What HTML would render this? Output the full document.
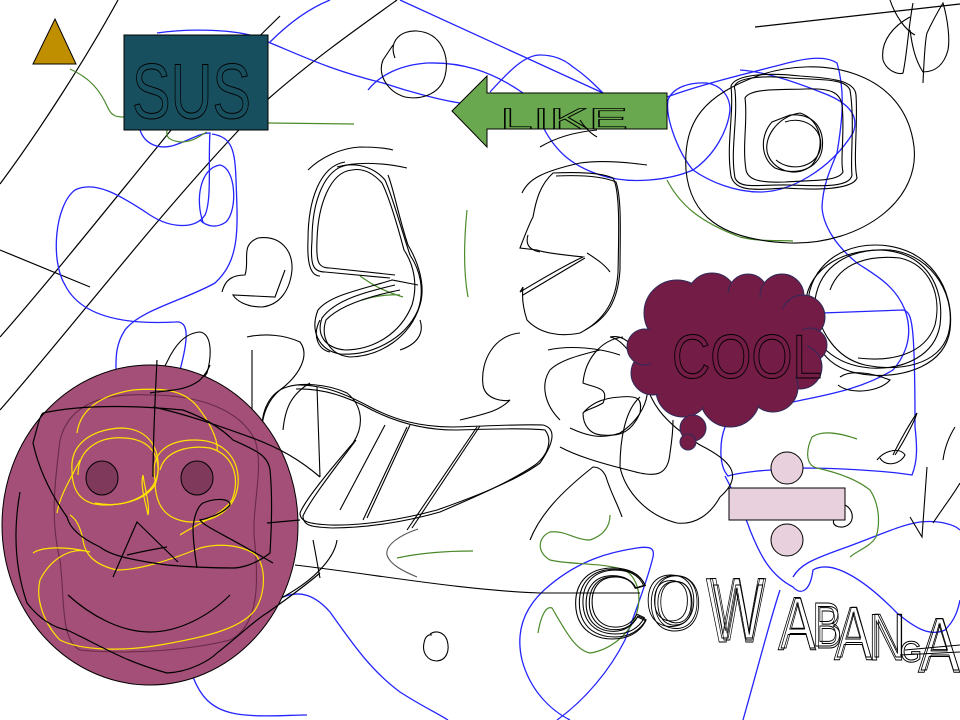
<!DOCTYPE html>
<html><head><meta charset="utf-8"><style>
html,body{margin:0;padding:0;background:#fff;}
svg{display:block;}
text{font-family:"Liberation Sans",sans-serif;}
</style></head><body>
<svg width="960" height="720" viewBox="0 0 960 720" xmlns="http://www.w3.org/2000/svg">
<rect width="960" height="720" fill="#fff"/>

<!-- long black lines -->
<g fill="none" stroke="#000" stroke-width="1.2">
<path d="M0,184 C40,130 85,60 118,0"/>
<path d="M0,337 C50,280 110,205 167,135 C200,95 240,55 280,16"/>
<path d="M0,410 C70,330 150,225 237,132 L267,100 C310,62 355,30 397,0"/>
<path d="M0,250 L90,287"/>
<path d="M755,27 L960,4"/>
</g>

<!-- blue strokes -->
<g fill="none" stroke="#2424ff" stroke-width="1.3">
<path d="M400,0 L603,93"/>
<path d="M270,42 C290,22 310,8 330,0"/>
<path d="M268,42 C300,55 330,70 383,83 C410,92 440,100 460,103"/>
<path d="M157,33 C190,28 230,30 250,35"/>
<path d="M140,130 C145,145 160,150 175,145 C190,140 200,133 210,133 C208,160 212,200 205,215 C195,230 170,228 150,215 C120,195 95,180 75,190 C55,205 50,260 65,285 C80,315 120,325 175,322 C190,320 188,340 180,370"/>
<path d="M212,134 C232,137 235,150 236,180 C238,230 240,260 215,283 C185,300 140,310 125,330 C115,345 116,360 116,370"/>
<path d="M203,222 C195,200 200,168 220,165 C236,168 238,210 226,222 C216,229 206,226 200,220"/>
<path d="M368,90 C380,75 400,65 427,63 C460,62 490,70 523,93"/>
<path d="M490,92 C510,70 525,55 540,55 C555,55 565,60 573,67 C585,75 595,85 603,93"/>
<path d="M543,127 C555,150 570,165 600,175 C630,185 670,180 693,170 C715,155 728,130 730,110 C730,95 720,85 707,83 C690,82 673,87 668,100 C665,120 680,155 693,170 C710,182 735,192 760,192 C790,192 830,170 853,133 C858,120 855,105 823,93 C790,80 765,72 740,70"/>
<path d="M667,97 C700,85 740,75 780,65 C805,58 825,55 837,63 C845,90 843,117 837,153 C830,170 823,185 822,207 C823,225 835,245 857,263 C875,275 895,285 905,310 C912,330 910,350 893,370 C860,390 825,395 793,402"/>
<path d="M822,313 L903,310 C912,312 915,320 915,427 C917,445 918,460 912,475 C880,470 830,468 800,468 C770,470 745,471 728,476 C718,465 720,440 725,427"/>
<path d="M725,476 C735,495 745,515 750,530 C760,555 770,575 793,587 C800,595 810,593 813,570 C830,560 860,575 897,613 C915,628 930,637 945,630 C955,620 958,610 960,600"/>
<path d="M793,577 C800,565 810,560 847,547 C880,535 900,525 920,522 C940,520 955,525 960,530"/>
<path d="M780,590 C770,620 760,660 743,720"/>
<path d="M557,720 C585,700 610,670 625,640 C640,600 650,570 653,557 C655,548 650,546 637,548 C610,552 580,560 550,585 C525,605 515,630 522,660 C530,690 550,710 570,720"/>
<path d="M283,597 C300,590 315,595 330,612 C350,640 370,670 400,692 C420,705 435,712 448,720"/>
<path d="M193,677 C200,695 210,708 232,713 C255,718 285,715 307,715"/>
</g>

<!-- green strokes -->
<g fill="none" stroke="#4b8a2b" stroke-width="1.2">
<path d="M70,69 C90,78 100,90 108,108 C112,117 118,117 124,117"/>
<path d="M268,123 L354,124"/>
<path d="M167,130 C166,137 168,140 180,142 C195,142 200,135 207,132"/>
<path d="M360,276 C370,283 380,290 403,297 M362,300 C375,296 390,294 400,295"/>
<path d="M467,210 C464,240 463,270 468,297"/>
<path d="M667,180 C680,205 700,222 740,237 C760,242 780,240 793,241"/>
<path d="M857,439 C840,433 822,430 812,437 C806,450 805,465 817,468 C835,472 855,478 870,490 C880,505 880,525 876,537 C870,547 858,550 850,557"/>
<path d="M610,515 C610,525 605,535 590,540 C575,540 565,530 550,532 C538,537 536,552 550,560 C570,565 600,562 625,570 C640,580 642,600 635,618 C628,635 610,650 590,653 C575,650 565,630 552,608 C545,605 540,620 538,633"/>
<path d="M397,558 C420,553 445,551 473,551"/>
</g>
<g fill="none" stroke="#555" stroke-width="1.1">
<path d="M418,529 C400,535 385,545 387,555 C390,565 405,572 417,577"/>
</g>

<!-- teal rect -->
<rect x="124" y="35" width="144" height="95" fill="#184f5e" stroke="#000" stroke-width="1"/>
<text x="132" y="118" font-size="78" textLength="119" lengthAdjust="spacingAndGlyphs" fill="none" stroke="#000" stroke-width="1">SUS</text>

<!-- triangle -->
<polygon points="55,19 33,64 76,64" fill="#bf8f00" stroke="#000" stroke-width="1"/>

<!-- arrow -->
<polygon points="452,111 487,76 487,93 667,93 667,129 487,129 487,147" fill="#6aa84f" stroke="#000" stroke-width="1"/>
<text x="500" y="129" font-size="30" textLength="128" lengthAdjust="spacingAndGlyphs" fill="none" stroke="#000" stroke-width="0.8">LIKE</text>

<!-- black scribbles -->
<g fill="none" stroke="#000" stroke-width="1.1">
<path d="M395,58 C388,40 402,30 417,31 C442,33 450,57 445,76 C440,95 420,100 405,97 C388,92 377,75 383,60 L393,45"/>
<path d="M540,147 C555,138 575,132 597,130 M580,120 C585,128 590,133 597,137"/>
<path d="M760,75 C820,55 900,70 913,140 C925,200 860,245 790,243 C720,240 690,215 686,170 C683,120 705,95 760,75 Z"/>
<path d="M735,90 C730,78 760,75 790,78 C820,80 845,78 850,90 C855,120 850,160 852,175 C850,188 820,186 790,185 C760,184 740,190 735,178 C730,150 738,120 735,90 Z"/>
<path d="M731,86 C735,75 765,72 800,76 C830,78 855,80 856,95 C858,125 853,160 857,178 C852,190 815,190 785,188 C755,190 735,192 731,176 C726,145 734,115 731,86 Z"/>
<path d="M745,98 C750,88 780,90 805,89 C830,88 840,92 842,105 C845,130 840,160 843,172 C838,182 810,180 785,182 C760,183 748,180 746,170 C742,145 748,120 745,98 Z"/>
<path d="M790,115 C815,113 825,130 822,150 C818,170 795,176 775,168 C760,158 760,135 772,122 Z"/>
<path d="M800,113 C822,120 826,148 812,165 C798,178 775,172 768,155 C762,138 778,116 800,113 Z"/>
<path d="M785,122 C805,115 825,130 820,150 C815,168 790,172 776,160"/>
<path d="M910,17 C895,25 880,40 883,60 C887,72 900,75 903,73 C907,55 908,30 913,3"/>
<path d="M923,83 C924,60 925,40 927,33 C933,20 940,8 943,3 C948,20 950,40 948,50 C944,65 935,72 923,72 C915,60 912,45 910,30"/>
<path d="M890,0 C895,15 905,30 915,35"/>
<!-- face 1 left head -->
<path d="M390,278 L325,272 C313,272 310,265 312,240 C312,200 325,168 348,165 C360,164 375,168 385,180 C392,195 400,225 410,255 C420,270 425,290 418,310 C405,340 370,356 340,354 C318,350 310,330 318,310 C330,295 360,290 392,280 L418,285"/>
<path d="M395,275 L330,268 C318,268 316,262 317,240 C318,205 330,172 352,170 C362,168 372,172 382,183 C388,195 396,220 404,250 C414,265 418,285 412,305 C400,335 372,350 345,350 C325,348 316,335 322,318 C335,300 365,292 395,285"/>
<path d="M320,276 C310,276 307,262 308,240 C308,200 320,166 345,162 M388,175 C394,190 398,215 408,245 C418,262 426,285 420,305 C410,338 380,356 350,357 C330,355 320,338 326,320 C340,305 370,296 400,290"/>
<path d="M308,170 C320,158 340,148 360,147 C375,147 385,148 393,150 M337,167 C355,162 380,162 407,168"/>
<!-- face 2 right head -->
<path d="M553,173 C575,172 600,172 613,178 C620,190 619,230 618,273 C616,300 605,320 580,333 C560,337 540,334 527,320 C522,305 522,295 523,287 L520,292 C540,280 565,265 583,257 C565,255 545,253 537,250 L520,248 C525,235 530,222 533,217 C536,200 540,185 553,173 Z"/>
<path d="M556,176 C578,175 602,176 616,182 C622,200 620,235 620,270 C618,300 608,318 585,330 M523,295 C545,282 565,270 585,258 M540,252 C530,250 525,245 528,235"/>
<path d="M522,193 C528,180 540,172 580,163 C600,160 625,162 647,165"/>
<path d="M587,253 C598,260 605,265 610,272"/>
<path d="M222,292 C225,280 232,275 245,275 C250,260 240,245 258,238 C280,235 293,250 292,270 C290,290 280,305 262,307 C245,307 236,300 233,295 L275,297 L285,270"/>
<!-- mouth / teeth -->
<path d="M298,385 C315,385 335,388 370,407 C395,420 420,427 453,427 C490,426 520,424 543,425 C555,428 556,440 540,463 C520,478 480,495 437,510 C400,520 360,526 330,525 C310,524 300,522 300,513 C305,500 330,470 353,443 C365,425 362,405 347,393 C325,383 300,383 287,387 C270,392 262,410 262,427"/>
<path d="M296,389 C320,388 345,395 372,410 C398,423 425,430 455,430 C495,429 525,428 545,430 C553,440 548,455 535,465 C510,482 475,497 440,512 C405,522 365,528 332,528 C312,527 303,526 303,516 C310,500 335,468 356,440"/>
<path d="M407,427 L363,520 M410,425 L367,518 M477,427 L407,530 M480,426 L412,528 M385,425 L340,510"/>
<path d="M247,337 C265,333 285,335 300,342 C310,355 300,375 280,390 C268,400 262,415 262,430"/>
<path d="M252,350 L252,477 M317,387 L320,477 M283,430 C285,410 290,395 310,383"/>
<path d="M320,320 C312,335 318,350 330,352 M420,320 C425,335 415,345 400,350"/>
<!-- center scribbles -->
<path d="M520,333 C495,335 480,360 483,385 C485,400 505,402 510,400 C500,410 490,413 460,420"/>
<path d="M623,337 C600,340 585,360 583,383 C595,388 610,387 603,403 C595,408 585,410 583,413 C583,425 590,435 603,435 C615,436 630,436 640,413 C642,400 640,395 620,397 C600,398 590,405 583,413"/>
<path d="M640,397 C625,410 620,440 620,467 C625,490 645,515 677,523 C695,525 710,515 720,497"/>
<path d="M560,447 C575,455 595,462 640,473 C655,476 668,476 670,453 C672,440 673,430 673,420"/>
<path d="M530,540 C540,515 560,493 593,467 C600,467 605,472 607,480 C612,495 618,505 622,517"/>
<path d="M560,420 C545,405 540,385 550,370 C560,360 580,355 600,350 M548,350 C570,345 600,348 620,355"/>
<path d="M610,337 C625,340 635,360 645,380 C650,400 660,420 700,445 C730,460 745,475 720,497"/>
<!-- right ellipses -->
<path d="M810,320 C800,280 830,245 875,245 C930,245 955,290 950,330 C945,365 905,378 870,375 C830,372 815,350 810,320 Z"/>
<path d="M805,310 C805,270 840,250 880,250 C925,252 945,285 940,325 C935,355 905,370 870,368 C835,365 812,345 805,310 Z"/>
<path d="M815,300 C820,265 850,248 890,250 C935,255 958,300 948,335 C938,365 900,372 865,365 C835,358 818,330 815,300 Z"/>
<path d="M830,290 C840,262 870,255 900,258 C930,265 942,295 935,325 C925,355 890,362 858,358"/>
<path d="M840,377 C850,370 870,372 890,380 C880,392 850,395 838,385"/>
<path d="M610,337 C625,334 638,345 647,383 C650,400 640,420 620,433 C600,440 585,435 570,428"/>
<path d="M877,460 C885,450 900,447 905,455 C900,465 885,467 880,458 M895,455 C905,440 915,420 917,413 C912,420 900,440 893,455"/>
<path d="M943,460 C945,445 950,435 955,427 M927,467 L922,537 L910,517 M960,483 C953,495 945,505 933,523"/>
<path d="M845,505 C855,510 855,525 843,527 C833,528 830,520 838,517"/>
<path d="M295,565 C380,575 460,590 540,593 L640,593"/>
<path d="M337,540 C335,555 320,575 290,593 C260,610 240,630 223,643"/>
<path d="M313,540 C316,555 318,568 320,578"/>
<path d="M430,634 C436,630 444,632 447,640 C450,650 447,660 437,661 C427,661 422,652 424,643 C425,637 428,634 432,635"/>
<path d="M153,400 C155,385 160,375 167,362 C175,345 185,333 200,332 C212,334 212,355 207,373 C200,385 185,390 153,400"/>
</g>

<!-- big face -->
<ellipse cx="150" cy="525" rx="148" ry="160" fill="#a34f77" stroke="#000" stroke-width="1"/>
<ellipse cx="102" cy="478" rx="16" ry="17" fill="#7f3a5b" stroke="#000" stroke-width="1"/>
<ellipse cx="197" cy="478" rx="16" ry="17" fill="#7f3a5b" stroke="#000" stroke-width="1"/>
<g fill="none" stroke="#6a2a48" stroke-width="1.1">
<path d="M60,440 C55,480 50,520 60,560 C65,600 60,640 80,650 C130,655 190,650 230,640 C260,625 258,580 255,545 C250,510 265,470 255,440 C240,410 200,395 150,395 C110,393 70,400 60,440"/>
</g>
<g fill="none" stroke="#ffe400" stroke-width="1.2">
<path d="M77,433 C80,410 100,395 133,390 C160,388 185,388 200,410 C215,430 218,445 217,450"/>
<path d="M72,470 C70,445 90,430 120,428 C150,428 160,450 158,472 C155,495 130,505 105,505 C80,505 72,490 72,470 Z"/>
<path d="M78,475 C78,448 100,436 125,438 C155,440 163,462 155,485 C145,500 120,508 95,503"/>
<path d="M155,480 C150,455 165,440 195,440 C225,440 240,460 238,485 C235,510 215,522 190,522 C165,520 155,505 155,480 Z"/>
<path d="M160,470 C165,450 190,445 210,448 C235,455 240,480 232,500 C222,515 195,525 180,535"/>
<path d="M143,475 C145,490 150,505 148,515 C145,500 140,485 143,475"/>
<path d="M57,513 C60,495 70,480 80,460 M33,553 C40,548 60,545 90,552 C70,546 50,560 40,580 C35,600 45,625 60,640 C80,650 120,652 160,645 C200,638 240,630 255,610 C268,590 265,560 253,553 C240,545 220,543 200,548 C170,560 140,570 117,570 C95,565 85,555 83,540 C80,525 75,518 70,515"/>
</g>
<g fill="none" stroke="#000" stroke-width="1.2">
<path d="M20,492 C15,520 12,560 27,603 C40,620 55,628 67,630 C100,645 120,660 167,673 C190,672 210,660 217,653 C240,635 255,620 267,613 C285,600 300,590 320,573"/>
<path d="M33,443 C38,425 40,415 43,413 C80,405 130,405 183,410 C210,420 225,432 233,440 C255,450 268,455 270,470 C272,490 272,520 270,553 C255,565 240,568 233,568 C210,568 190,567 167,565 C130,560 110,555 100,547 C85,540 70,530 67,517 C55,500 40,475 33,443 Z"/>
<path d="M68,595 C90,615 120,632 150,632 C180,632 210,615 230,595"/>
<path d="M113,577 L137,522 L178,562 M127,555 C140,552 155,549 167,547"/>
<path d="M197,568 C195,555 193,540 193,527 C195,510 200,505 203,503 C215,498 230,498 230,505 C225,512 210,518 200,520 C205,527 220,532 273,563"/>
<path d="M157,360 C155,400 153,440 153,477"/>
<path d="M153,407 C190,415 230,430 250,437 C280,448 300,460 320,477"/>
<path d="M150,393 C165,390 185,392 200,380 C205,375 208,370 210,365"/>
<path d="M267,523 L300,520"/>
</g>

<!-- cloud -->
<g fill="#731c45" stroke="#2f2a5a" stroke-width="1">
<circle cx="677" cy="313" r="33"/>
<circle cx="712" cy="298" r="25"/>
<circle cx="748" cy="294" r="20"/>
<circle cx="782" cy="296" r="22"/>
<circle cx="803" cy="317" r="22"/>
<circle cx="810" cy="345" r="17"/>
<circle cx="800" cy="367" r="22"/>
<circle cx="773" cy="387" r="25"/>
<circle cx="730" cy="397" r="30"/>
<circle cx="683" cy="390" r="27"/>
<circle cx="653" cy="373" r="22"/>
<circle cx="645" cy="347" r="18"/>
<circle cx="693" cy="428" r="13"/>
<circle cx="688" cy="442" r="8"/>
</g>
<ellipse cx="727" cy="348" rx="80" ry="55" fill="#731c45"/>
<circle cx="677" cy="313" r="31" fill="#731c45"/>
<circle cx="773" cy="387" r="23" fill="#731c45"/>
<circle cx="730" cy="396" r="28" fill="#731c45"/>
<circle cx="683" cy="389" r="25" fill="#731c45"/>
<text x="672" y="378" font-size="62" textLength="150" lengthAdjust="spacingAndGlyphs" fill="none" stroke="#000" stroke-width="1">COOL</text>

<!-- division sign -->
<g fill="#e8d1dc" stroke="#000" stroke-width="1">
<circle cx="787" cy="468" r="16"/>
<rect x="729" y="488" width="116" height="32"/>
<circle cx="787" cy="540" r="16"/>
</g>

<!-- COWABANGA -->
<g fill="none" stroke="#000" stroke-width="1">
<text x="570" y="638" font-size="100" textLength="80" lengthAdjust="spacingAndGlyphs">C</text>
<text x="574" y="636" font-size="96" textLength="76" lengthAdjust="spacingAndGlyphs">C</text>
<text x="578" y="633" font-size="90" textLength="70" lengthAdjust="spacingAndGlyphs">C</text>
<text x="648" y="630" font-size="78" textLength="54" lengthAdjust="spacingAndGlyphs">O</text>
<text x="652" y="628" font-size="74" textLength="48" lengthAdjust="spacingAndGlyphs">O</text>
<text x="645" y="626" font-size="72" textLength="52" lengthAdjust="spacingAndGlyphs">O</text>
<text x="706" y="642" font-size="92" textLength="60" lengthAdjust="spacingAndGlyphs">W</text>
<text x="710" y="638" font-size="86" textLength="54" lengthAdjust="spacingAndGlyphs">W</text>
<text x="713" y="640" font-size="80" textLength="50" lengthAdjust="spacingAndGlyphs">W</text>
<text x="778" y="650" font-size="76" textLength="38" lengthAdjust="spacingAndGlyphs">A</text>
<text x="781" y="648" font-size="72" textLength="34" lengthAdjust="spacingAndGlyphs">A</text>
<text x="812" y="646" font-size="62" textLength="30" lengthAdjust="spacingAndGlyphs">B</text>
<text x="815" y="648" font-size="60" textLength="27" lengthAdjust="spacingAndGlyphs">B</text>
<text x="834" y="660" font-size="76" textLength="38" lengthAdjust="spacingAndGlyphs">A</text>
<text x="837" y="657" font-size="72" textLength="34" lengthAdjust="spacingAndGlyphs">A</text>
<text x="868" y="660" font-size="66" textLength="38" lengthAdjust="spacingAndGlyphs">N</text>
<text x="871" y="657" font-size="62" textLength="34" lengthAdjust="spacingAndGlyphs">N</text>
<text x="900" y="662" font-size="30" textLength="22" lengthAdjust="spacingAndGlyphs">G</text>
<text x="918" y="672" font-size="78" textLength="42" lengthAdjust="spacingAndGlyphs">A</text>
<text x="921" y="670" font-size="74" textLength="38" lengthAdjust="spacingAndGlyphs">A</text>
<path d="M905,650 L960,645 M900,655 L960,652"/>
</g>
</svg>
</body></html>
